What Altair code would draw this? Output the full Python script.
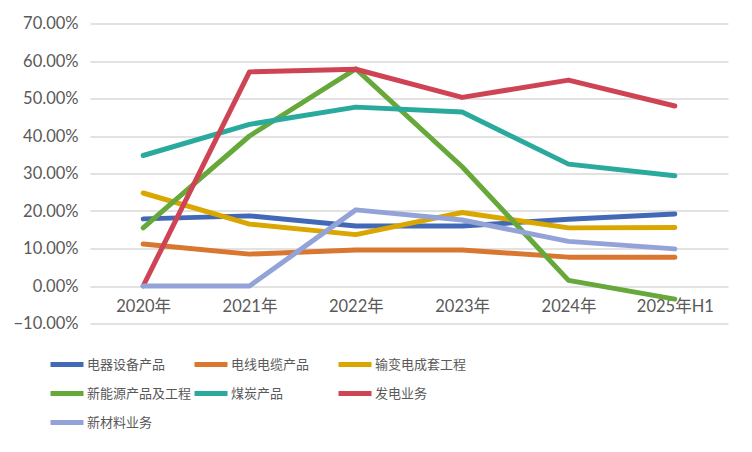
import altair as alt
import pandas as pd

categories = ["2020年", "2021年", "2022年", "2023年", "2024年", "2025年H1"]
series_names = ["电器设备产品", "电线电缆产品", "输变电成套工程", "新能源产品及工程", "煤炭产品", "发电业务", "新材料业务"]
s_dianqi = [17.9, 18.7, 16.0, 16.0, 17.8, 19.2]
s_dianxian = [11.2, 8.5, 9.6, 9.6, 7.7, 7.7]
s_shubian = [24.8, 16.5, 13.7, 19.6, 15.5, 15.6]
s_xinneng = [15.5, 40.0, 57.9, 31.8, 1.5, -3.5]
s_meitan = [34.8, 43.1, 47.7, 46.4, 32.5, 29.4]
s_fadian = [0.0, 57.1, 57.8, 50.3, 54.9, 48.0]
s_xincai = [0.0, 0.0, 20.3, 17.6, 11.9, 9.9]
colors = ["#4169B7", "#D9762F", "#DAA600", "#66A83A", "#2AAA9D", "#CE4455", "#93A3D8"]

all_series = [s_dianqi, s_dianxian, s_shubian, s_xinneng, s_meitan, s_fadian, s_xincai]
rows = []
for i, (name, vals) in enumerate(zip(series_names, all_series)):
    for c, v in zip(categories, vals):
        rows.append({"年份": c, "系列": name, "值": v / 100.0, "order": i})
df = pd.DataFrame(rows)

FONT = "Lato, Noto Sans CJK SC"

chart = alt.Chart(df).mark_line(strokeWidth=5, strokeCap="round", strokeJoin="round").encode(
    x=alt.X("年份:N", sort=categories, title=None,
            scale=alt.Scale(type="point", padding=0.5),
            axis=alt.Axis(labelAngle=0, domain=False, ticks=False, grid=False,
                          offset=-37.5, labelPadding=12, labelFontSize=16.5,
                          labelColor="#595959", labelFont=FONT)),
    y=alt.Y("值:Q", title=None,
            scale=alt.Scale(domain=[-0.1, 0.7], nice=False),
            axis=alt.Axis(format=".2%", values=[-0.1, 0, 0.1, 0.2, 0.3, 0.4, 0.5, 0.6, 0.7],
                          domain=False, ticks=False, grid=True, gridColor="#D9D9D9",
                          gridWidth=1.3, labelPadding=12, labelFontSize=16.5,
                          labelColor="#595959", labelFont=FONT)),
    color=alt.Color("系列:N", sort=series_names,
                    scale=alt.Scale(domain=series_names, range=colors),
                    legend=alt.Legend(title=None, orient="none", legendX=-42, legendY=322,
                                      direction="horizontal", columns=3,
                                      symbolType="stroke", symbolStrokeWidth=5, symbolSize=1089,
                                      labelFontSize=13, labelColor="#595959", labelFont="Noto Sans CJK SC",
                                      labelLimit=300, rowPadding=0, columnPadding=-16,
                                      gridAlign="all", labelOffset=1)),
    order=alt.Order("order:Q"),
    detail="系列:N",
).properties(
    width=638, height=300,
    padding={"left": 82, "top": 15.5, "right": 14, "bottom": 120},
    autosize=alt.AutoSizeParams(type="none"),
).configure_view(stroke=None)

chart.save("out.html", embed_options={"renderer": "svg", "actions": False})
